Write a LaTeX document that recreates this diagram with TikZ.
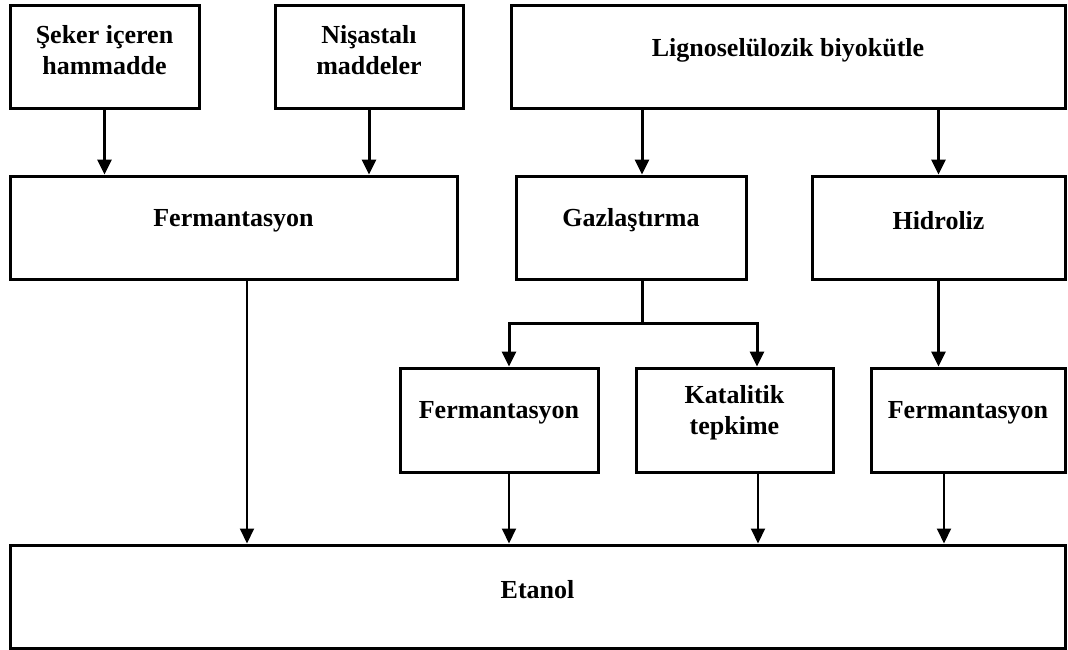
\documentclass[tikz,border=0pt]{standalone}
\usepackage{fontspec}
\setmainfont{Liberation Serif}
\usepackage{tikz}
\usetikzlibrary{arrows.meta,calc}
\tikzset{
  blok/.style = {rectangle, draw=black, line width=3pt, inner sep=0pt,
    minimum height=103pt},% kutu
  yazi/.style = {align=center, inner sep=0pt, yshift=7pt,
    font=\fontsize{26}{31}\selectfont\bfseries},% kutu yazisi
  ok/.style = {->, line width=3pt},% ok
  ok_i/.style = {->, line width=2pt}% ince ok (etanole)
}
\begin{document}
\begin{tikzpicture}[x=1pt,y=-1pt,>={Triangle[length=15pt,width=14pt]}]
\useasboundingbox (0,0) rectangle (1068,650);
% ust sira
\node [blok, minimum width=189pt, label={[yazi]center:Şeker içeren\\hammadde}] (seker) at (104.5,57.5) {};
\node [blok, minimum width=188pt, label={[yazi]center:Nişastalı\\maddeler}] (nisasta) at (369,57.5) {};
\node [blok, minimum width=554pt, label={[yazi]center:Lignoselülozik biyokütle}] (ligno) at (788,57.5) {};
% ikinci sira
\node [blok, minimum width=447pt, label={[yazi]center:Fermantasyon}] (ferm1) at (233.5,227.5) {};
\node [blok, minimum width=230pt, label={[yazi]center:Gazlaştırma}] (gaz) at (631,227.5) {};
\node [blok, minimum width=253pt, label={[yazi]center:Hidroliz}] (hidro) at (938.5,227.5) {};
% ucuncu sira
\node [blok, minimum width=198pt, minimum height=104pt, label={[yazi]center:Fermantasyon}] (ferm2) at (499,420) {};
\node [blok, minimum width=197pt, minimum height=104pt, label={[yazi]center:Katalitik\\tepkime}] (katal) at (734.5,420) {};
\node [blok, minimum width=194pt, minimum height=104pt, label={[yazi]center:Fermantasyon}] (ferm3) at (968,420) {};
% alt
\node [blok, minimum width=1055pt, label={[yazi]center:Etanol}] (etanol) at (537.5,596.5) {};

\coordinate (dal) at (642,323);% gazlastirma dallanmasi

\draw [ok] (seker) -- (seker |- ferm1.north);
\draw [ok] (nisasta) -- (nisasta |- ferm1.north);
\draw [ok] (ligno.south -| dal) -- (gaz.north -| dal);
\draw [ok] (hidro |- ligno.south) -- (hidro.north);
\draw [line width=3pt] (gaz.south -| dal) -- (dal);
\draw [ok] (dal) -| ([xshift=10pt]ferm2.north);
\draw [ok] (dal) -| ([xshift=22.5pt]katal.north);
\draw [ok] (hidro.south) -- (hidro.south |- ferm3.north);
\draw [ok_i] ([xshift=13.5pt]ferm1.south) -- ([xshift=13.5pt]ferm1.south |- etanol.north);
\draw [ok_i] ([xshift=10pt]ferm2.south) -- ([xshift=10pt]ferm2.south |- etanol.north);
\draw [ok_i] ([xshift=23.5pt]katal.south) -- ([xshift=23.5pt]katal.south |- etanol.north);
\draw [ok_i] ([xshift=-24pt]ferm3.south) -- ([xshift=-24pt]ferm3.south |- etanol.north);
\end{tikzpicture}
\end{document}
